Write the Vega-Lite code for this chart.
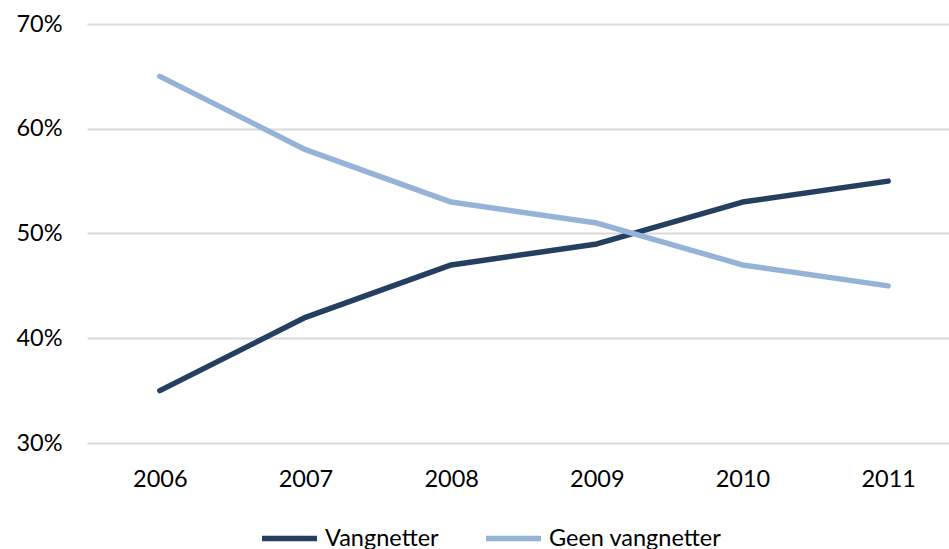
{
  "$schema": "https://vega.github.io/schema/vega-lite/v6.json",
  "autosize": {"type": "none"},
  "width": 874,
  "height": 419,
  "padding": {"left": 87, "top": 24, "right": 0, "bottom": 106},
  "background": "white",
  "config": {
    "view": {"stroke": null},
    "font": "Lato"
  },
  "data": {
    "values": [
      {"year": "2006", "series": "Vangnetter", "value": 0.35},
      {"year": "2007", "series": "Vangnetter", "value": 0.42},
      {"year": "2008", "series": "Vangnetter", "value": 0.47},
      {"year": "2009", "series": "Vangnetter", "value": 0.49},
      {"year": "2010", "series": "Vangnetter", "value": 0.53},
      {"year": "2011", "series": "Vangnetter", "value": 0.55},
      {"year": "2006", "series": "Geen vangnetter", "value": 0.65},
      {"year": "2007", "series": "Geen vangnetter", "value": 0.58},
      {"year": "2008", "series": "Geen vangnetter", "value": 0.53},
      {"year": "2009", "series": "Geen vangnetter", "value": 0.51},
      {"year": "2010", "series": "Geen vangnetter", "value": 0.47},
      {"year": "2011", "series": "Geen vangnetter", "value": 0.45}
    ]
  },
  "mark": {"type": "line", "strokeWidth": 5.5, "strokeCap": "round", "strokeJoin": "round"},
  "encoding": {
    "x": {
      "field": "year", "type": "ordinal",
      "scale": {"type": "point", "padding": 0.5},
      "axis": {"title": null, "labelAngle": 0, "domain": false, "ticks": false, "grid": false, "labelFontSize": 23.5, "labelColor": "#000000", "labelPadding": 24, "labelFont": "Lato"}
    },
    "y": {
      "field": "value", "type": "quantitative",
      "scale": {"domain": [0.3, 0.7], "nice": false, "zero": false},
      "axis": {"title": null, "format": ".0%", "values": [0.3, 0.4, 0.5, 0.6, 0.7], "domain": false, "ticks": false, "gridColor": "#d9d9d9", "gridWidth": 2, "labelFontSize": 23.5, "labelColor": "#000000", "labelPadding": 25, "labelFont": "Lato"}
    },
    "color": {
      "field": "series", "type": "nominal",
      "scale": {"domain": ["Vangnetter", "Geen vangnetter"], "range": ["#243f60", "#95b3d7"]},
      "legend": {
        "title": null, "orient": "none", "direction": "horizontal",
        "legendX": 172, "legendY": 484, "padding": 0,
        "symbolType": "stroke", "symbolSize": 3025, "symbolStrokeWidth": 5.5,
        "labelFontSize": 23.5, "labelLimit": 0, "labelColor": "#000000", "labelOffset": 5, "columnPadding": 36, "labelFont": "Lato"
      }
    }
  }
}
